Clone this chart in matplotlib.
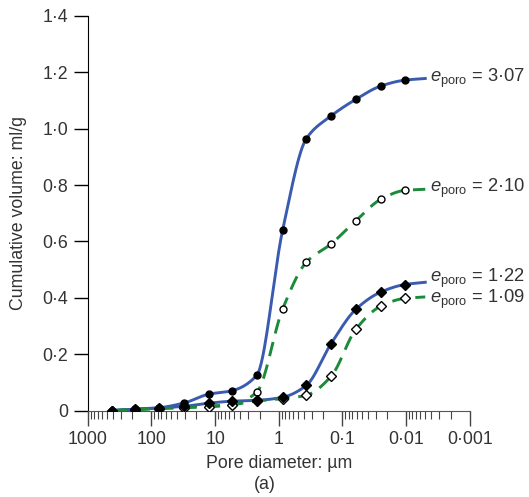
import numpy as np
import matplotlib
matplotlib.use("Agg")
import matplotlib.pyplot as plt
from matplotlib.ticker import FixedLocator, FixedFormatter, LogLocator, NullFormatter

plt.rcParams['font.family'] = ['Liberation Sans', 'DejaVu Sans']
plt.rcParams['mathtext.fontset'] = 'custom'
plt.rcParams['mathtext.rm'] = 'Liberation Sans'
plt.rcParams['mathtext.it'] = 'Liberation Sans:italic'

# pore diameters (um) of the measured points, shared by all samples
diam = [413, 183, 75.7, 30.5, 12.6, 5.5, 2.22, 0.87, 0.37, 0.151, 0.0616, 0.0251, 0.0105]
# end of the drawn curves (no marker)
diam_end = 0.005

vol_307 = [0.0, 0.005, 0.01, 0.027, 0.058, 0.07, 0.125, 0.64, 0.964, 1.045, 1.104, 1.151, 1.172]
vol_210 = [0.0, 0.004, 0.008, 0.014, 0.016, 0.02, 0.065, 0.36, 0.526, 0.591, 0.673, 0.749, 0.781]
vol_122 = [0.0, 0.004, 0.009, 0.015, 0.026, 0.033, 0.036, 0.047, 0.089, 0.237, 0.359, 0.42, 0.447]
vol_109 = [0.0, 0.003, 0.006, 0.01, 0.013, 0.02, 0.034, 0.042, 0.054, 0.121, 0.288, 0.37, 0.398]
end_vals = [1.178, 0.785, 0.455, 0.403]

labels = ['3·07', '2·10', '1·22', '1·09']
label_y = [1.18, 0.788, 0.47, 0.393]

xticks = [1000, 100, 10, 1, 0.1, 0.01, 0.001]
xticklabels = ['1000', '100', '10', '1', '0·1', '0·01', '0·001']
yticks = [0, 0.2, 0.4, 0.6, 0.8, 1.0, 1.2, 1.4]
yticklabels = ['0', '0·2', '0·4', '0·6', '0·8', '1·0', '1·2', '1·4']

BLUE = '#3a5bb0'
GREEN = '#1b8a3a'
TEXT = '#333333'


def pchip(x, y, xs):
    """Monotone cubic (Fritsch-Carlson) used only to draw a smooth line."""
    x = np.asarray(x, float)
    y = np.asarray(y, float)
    h = np.diff(x)
    d = np.diff(y) / h
    m = np.zeros_like(y)
    m[0], m[-1] = d[0], d[-1]
    for k in range(1, len(x) - 1):
        if d[k - 1] * d[k] <= 0:
            m[k] = 0
        else:
            w1 = 2 * h[k] + h[k - 1]
            w2 = h[k] + 2 * h[k - 1]
            m[k] = (w1 + w2) / (w1 / d[k - 1] + w2 / d[k])
    idx = np.clip(np.searchsorted(x, xs) - 1, 0, len(x) - 2)
    t = (xs - x[idx]) / h[idx]
    h00 = 2 * t**3 - 3 * t**2 + 1
    h10 = t**3 - 2 * t**2 + t
    h01 = -2 * t**3 + 3 * t**2
    h11 = t**3 - t**2
    return h00 * y[idx] + h10 * h[idx] * m[idx] + h01 * y[idx + 1] + h11 * h[idx] * m[idx + 1]


def smooth_curve(d, v, d_end, v_end):
    lx = -np.log10(list(d) + [d_end])
    yy = list(v) + [v_end]
    xs = np.linspace(lx[0], lx[-1], 400)
    return 10 ** (-xs), pchip(lx, yy, xs)


fig = plt.figure(figsize=(5.29, 4.97), dpi=100)
ax = fig.add_axes([0.166, 0.174, 0.722, 0.794])

series = [
    (vol_307, BLUE, '-', 'o', 'black'),
    (vol_210, GREEN, (0, (5, 3)), 'o', 'white'),
    (vol_122, BLUE, '-', 'D', 'black'),
    (vol_109, GREEN, (0, (5, 3)), 'D', 'white'),
]

for (vals, col, ls, mk, fc), ve in zip(series, end_vals):
    cx, cy = smooth_curve(diam, vals, diam_end, ve)
    ax.plot(cx, cy, color=col, linestyle=ls, lw=2.1, zorder=2)

# open markers first so the filled ones sit on top where they coincide
for i in [1, 3, 0, 2]:
    vals, col, ls, mk, fc = series[i]
    ax.plot(diam, vals, linestyle='none', marker=mk, ms=5 if mk == 'o' else 4.6,
            mfc=fc, mec='black', mew=1.0, zorder=3 + (fc == 'black'))

for lab, ly in zip(labels, label_y):
    ax.text(0.0042, ly, r'$e_{\mathrm{poro}}$ = ' + lab, fontsize=13.2,
            va='center', ha='left', color=TEXT)

ax.set_xscale('log')
ax.set_xlim(1000, 0.001)
ax.set_ylim(0, 1.4)

ax.xaxis.set_major_locator(FixedLocator(xticks))
ax.xaxis.set_major_formatter(FixedFormatter(xticklabels))
ax.xaxis.set_minor_locator(LogLocator(base=10, subs=np.arange(2, 10), numticks=20))
ax.xaxis.set_minor_formatter(NullFormatter())
ax.yaxis.set_major_locator(FixedLocator(yticks))
ax.yaxis.set_major_formatter(FixedFormatter(yticklabels))

ax.tick_params(axis='x', which='major', direction='out', length=11, width=1.0,
               labelsize=12.8, pad=4, colors='#444444', labelcolor=TEXT)
ax.tick_params(axis='x', which='minor', direction='out', length=6, width=0.8, colors='#444444')
ax.tick_params(axis='y', which='major', direction='out', length=10, width=1.0,
               labelsize=12.8, pad=4, colors='black', labelcolor=TEXT)

for s in ['top', 'right']:
    ax.spines[s].set_visible(False)
ax.spines['left'].set_color('black')
ax.spines['bottom'].set_color('#555555')

ax.set_xlabel('Pore diameter: µm', fontsize=12.8, color=TEXT, labelpad=5)
ax.set_ylabel('Cumulative volume: ml/g', fontsize=12.8, color=TEXT, labelpad=11)
fig.text(0.5, 0.026, '(a)', fontsize=12.8, ha='center', va='center', color=TEXT)

fig.savefig('out.png', dpi=100)
